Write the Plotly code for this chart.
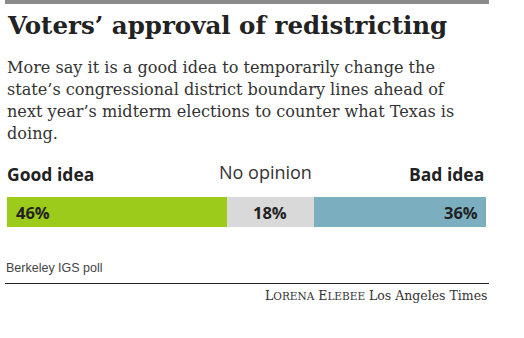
import plotly.graph_objects as go

categories = ["Good idea", "No opinion", "Bad idea"]
values = [46, 18, 36]
value_labels = ["46%", "18%", "36%"]
colors = ["#9dcb1b", "#d9d9d9", "#7bafc0"]

title = "Voters’ approval of redistricting"
subtitle_lines = [
    "More say it is a good idea to temporarily change the",
    "state’s congressional district boundary lines ahead of",
    "next year’s midterm elections to counter what Texas is",
    "doing.",
]
source = "Berkeley IGS poll"

W, H = 524, 338
def px(x): return x / W
def py(y): return 1 - y / H

fig = go.Figure()
for cat, v, c in zip(categories, values, colors):
    fig.add_trace(go.Bar(
        y=["r"], x=[v], orientation="h", name=cat,
        marker=dict(color=c, line=dict(width=0)),
        hoverinfo="skip", showlegend=False,
    ))

ann = []
ann.append(dict(x=px(5), y=py(26), xref="paper", yref="paper", xanchor="left", yanchor="middle",
                text="<b>" + title + "</b>", showarrow=False,
                font=dict(family="DejaVu Serif", size=24.5, color="#222")))
for i, line in enumerate(subtitle_lines):
    ann.append(dict(x=px(5), y=py(67.5 + 22 * i), xref="paper", yref="paper", xanchor="left", yanchor="middle",
                    text=line, showarrow=False,
                    font=dict(family="DejaVu Serif", size=16.1, color="#333")))
# category labels
ann.append(dict(x=px(5), y=py(174), xref="paper", yref="paper", xanchor="left", yanchor="middle",
                text="<b>" + categories[0] + "</b>", showarrow=False,
                font=dict(family="Open Sans", size=17.5, color="#222")))
ann.append(dict(x=px(265), y=py(172), xref="paper", yref="paper", xanchor="center", yanchor="middle",
                text=categories[1], showarrow=False,
                font=dict(family="Open Sans", size=18, color="#333")))
ann.append(dict(x=px(486), y=py(174), xref="paper", yref="paper", xanchor="right", yanchor="middle",
                text="<b>" + categories[2] + "</b>", showarrow=False,
                font=dict(family="Open Sans", size=17.5, color="#222")))
# value labels, positioned from data
cum = 0
starts = []
for v in values:
    starts.append(cum)
    cum += v
ann.append(dict(x=starts[0], y="r", xref="x", yref="y", xanchor="left", yanchor="middle", xshift=7,
                text="<b>" + value_labels[0] + "</b>", showarrow=False,
                font=dict(family="Open Sans", size=16.5, color="#222")))
ann.append(dict(x=starts[1] + values[1] / 2, y="r", xref="x", yref="y", xanchor="center", yanchor="middle",
                text="<b>" + value_labels[1] + "</b>", showarrow=False,
                font=dict(family="Open Sans", size=16.5, color="#222")))
ann.append(dict(x=starts[2] + values[2], y="r", xref="x", yref="y", xanchor="right", yanchor="middle", xshift=-6,
                text="<b>" + value_labels[2] + "</b>", showarrow=False,
                font=dict(family="Open Sans", size=16.5, color="#222")))
ann.append(dict(x=px(4), y=py(268), xref="paper", yref="paper", xanchor="left", yanchor="middle",
                text=source, showarrow=False,
                font=dict(family="Liberation Sans", size=12.5, color="#444")))
credit = ('L<span style="font-size:10.5px">ORENA</span> E<span style="font-size:10.5px">LEBEE</span> '
          'Los Angeles Times')
ann.append(dict(x=px(490), y=py(295), xref="paper", yref="paper", xanchor="right", yanchor="middle",
                text=credit, showarrow=False,
                font=dict(family="DejaVu Serif", size=12.5, color="#333")))

shapes = [
    dict(type="rect", xref="paper", yref="paper", x0=px(5), x1=px(489), y0=py(4), y1=py(0),
         fillcolor="#8a8a8a", line=dict(width=0)),
    dict(type="line", xref="paper", yref="paper", x0=px(5), x1=px(489), y0=py(283.5), y1=py(283.5),
         line=dict(color="#222", width=1)),
]

fig.update_layout(
    width=W, height=H, margin=dict(l=0, r=0, t=0, b=0),
    paper_bgcolor="white", plot_bgcolor="white",
    barmode="stack", bargap=0,
    xaxis=dict(domain=[px(7), px(486)], range=[0, 100], visible=False, fixedrange=True),
    yaxis=dict(domain=[py(227), py(197)], range=[-0.5, 0.5], visible=False, fixedrange=True),
    annotations=ann, shapes=shapes,
)
fig.write_html("out.html", config={"displayModeBar": False})
